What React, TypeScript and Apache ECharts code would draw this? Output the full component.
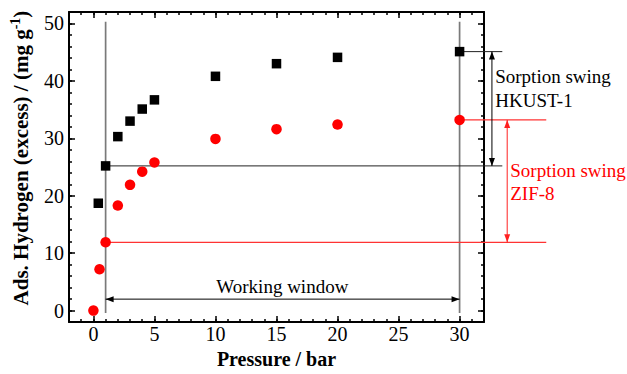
import React, { useEffect, useRef } from 'react';
import * as echarts from 'echarts';

// ---- data ----
const pressureHKUST = [0.4, 1, 2, 3, 4, 5, 10, 15, 20, 30];
const uptakeHKUST = [18.7, 25.2, 30.3, 33.0, 35.1, 36.7, 40.8, 43.0, 44.1, 45.1];
const pressureZIF = [0, 0.5, 1, 2, 3, 4, 5, 10, 15, 20, 30];
const uptakeZIF = [0, 7.2, 11.9, 18.3, 21.9, 24.2, 25.8, 29.9, 31.6, 32.4, 33.2];

const xMajorTicks = [0, 5, 10, 15, 20, 25, 30];
const yMajorTicks = [0, 10, 20, 30, 40, 50];

// annotation geometry in data units: [x1, y1, x2, y2]
const windowGuides = [[1, 50.3, 1, -0.4], [30, 50.3, 30, -0.4]];
const hkustSwingLevels = [[1, 25.2, 33.5, 25.2], [30, 45.1, 33.5, 45.1]];
const zifSwingLevels = [[1, 11.9, 37.1, 11.9], [30, 33.2, 37.1, 33.2]];
const hkustSwingArrow = [[32.65, 45.1, 32.65, 25.2]];
const zifSwingArrow = [[33.9, 33.2, 33.9, 11.9]];
const windowArrow = [[1, 2, 30, 2]];

const windowLabel = 'Working window';
const hkustLabel = 'Sorption swing\nHKUST-1';
const zifLabel = 'Sorption swing\nZIF-8';
const windowLabelAt = [15.48, 4.28];
const hkustLabelAt = [32.92, 38.67];
const zifLabelAt = [34.15, 22.44];

const FONT = '"Times New Roman", "Liberation Serif", serif';
const RED = '#ff0000';

function segmentSeries(data: number[][], color: string, width: number) {
  return {
    type: 'custom',
    silent: true,
    z: 1,
    clip: false,
    encode: { x: [0, 2], y: [1, 3] },
    data,
    renderItem: (_p: any, api: any) => {
      const a = api.coord([api.value(0), api.value(1)]);
      const b = api.coord([api.value(2), api.value(3)]);
      return {
        type: 'line',
        shape: { x1: a[0], y1: a[1], x2: b[0], y2: b[1] },
        style: { stroke: color, lineWidth: width, fill: null },
      };
    },
  };
}

function arrowSeries(data: number[][], color: string) {
  return {
    type: 'custom',
    silent: true,
    z: 1,
    clip: false,
    encode: { x: [0, 2], y: [1, 3] },
    data,
    renderItem: (_p: any, api: any) => {
      const a = api.coord([api.value(0), api.value(1)]);
      const b = api.coord([api.value(2), api.value(3)]);
      const dx = b[0] - a[0];
      const dy = b[1] - a[1];
      const len = Math.sqrt(dx * dx + dy * dy) || 1;
      const ux = dx / len;
      const uy = dy / len;
      const nx = -uy;
      const ny = ux;
      const L = 8;
      const W = 3;
      const headA = [
        [a[0], a[1]],
        [a[0] + ux * L + nx * W, a[1] + uy * L + ny * W],
        [a[0] + ux * L - nx * W, a[1] + uy * L - ny * W],
      ];
      const headB = [
        [b[0], b[1]],
        [b[0] - ux * L + nx * W, b[1] - uy * L + ny * W],
        [b[0] - ux * L - nx * W, b[1] - uy * L - ny * W],
      ];
      return {
        type: 'group',
        children: [
          {
            type: 'line',
            shape: { x1: a[0], y1: a[1], x2: b[0], y2: b[1] },
            style: { stroke: color, lineWidth: 1, fill: null },
          },
          { type: 'polygon', shape: { points: headA }, style: { fill: color } },
          { type: 'polygon', shape: { points: headB }, style: { fill: color } },
        ],
      };
    },
  };
}

function textSeries(at: number[], text: string, color: string, align: string) {
  return {
    type: 'custom',
    silent: true,
    z: 1,
    clip: false,
    data: [at],
    renderItem: (_p: any, api: any) => {
      const p = api.coord([api.value(0), api.value(1)]);
      return {
        type: 'text',
        x: p[0],
        y: p[1],
        style: {
          text,
          fill: color,
          fontSize: 19,
          fontFamily: FONT,
          align,
          verticalAlign: 'middle',
          lineHeight: 23.5,
        },
      };
    },
  };
}

const axisLineStyle = { color: '#000', width: 2 };
const tickStyle = { color: '#000', width: 1.5 };

function xAxes() {
  const base = { type: 'value', min: -2, max: 32, splitLine: { show: false } };
  return [
    {
      ...base,
      position: 'bottom',
      axisLine: { show: true, onZero: false, lineStyle: axisLineStyle },
      axisTick: { show: true, inside: true, length: 6, customValues: xMajorTicks, lineStyle: tickStyle },
      axisLabel: { show: true, customValues: xMajorTicks, margin: 2, color: '#000', fontSize: 20, fontFamily: FONT },
      name: 'Pressure / bar',
      nameLocation: 'middle',
      nameGap: 13,
      nameTextStyle: { fontSize: 20, fontWeight: 'bold', fontFamily: FONT, color: '#000' },
    },
    {
      ...base,
      position: 'bottom',
      interval: 1,
      axisLine: { show: false, onZero: false },
      axisTick: { show: true, inside: true, length: 3, lineStyle: tickStyle },
      axisLabel: { show: false },
    },
    {
      ...base,
      position: 'top',
      interval: 1,
      axisLine: { show: true, onZero: false, lineStyle: axisLineStyle },
      axisTick: { show: true, inside: true, length: 3, lineStyle: tickStyle },
      axisLabel: { show: false },
    },
    {
      ...base,
      position: 'top',
      axisLine: { show: false, onZero: false },
      axisTick: { show: true, inside: true, length: 6, customValues: xMajorTicks, lineStyle: tickStyle },
      axisLabel: { show: false, customValues: xMajorTicks },
    },
  ];
}

function yAxes() {
  const base = { type: 'value', min: -2, max: 52, splitLine: { show: false } };
  return [
    {
      ...base,
      position: 'left',
      axisLine: { show: true, onZero: false, lineStyle: axisLineStyle },
      axisTick: { show: true, inside: true, length: 6, customValues: yMajorTicks, lineStyle: tickStyle },
      axisLabel: { show: true, customValues: yMajorTicks, margin: 5, color: '#000', fontSize: 20, fontFamily: FONT },
      name: '{t|Ads. Hydrogen (excess) / (mg g}{s|-1}{t|)}',
      nameLocation: 'middle',
      nameGap: 35,
      nameTextStyle: {
        padding: [0, 0, 0, 18],
        rich: {
          t: { fontSize: 21, fontWeight: 'bold', fontFamily: FONT, color: '#000', lineHeight: 26 },
          s: { fontSize: 14, fontWeight: 'bold', fontFamily: FONT, color: '#000', verticalAlign: 'top', lineHeight: 14 },
        },
      },
    },
    {
      ...base,
      position: 'left',
      interval: 2,
      axisLine: { show: false, onZero: false },
      axisTick: { show: true, inside: true, length: 3, lineStyle: tickStyle },
      axisLabel: { show: false },
    },
    {
      ...base,
      position: 'right',
      interval: 2,
      axisLine: { show: true, onZero: false, lineStyle: axisLineStyle },
      axisTick: { show: true, inside: true, length: 3, lineStyle: tickStyle },
      axisLabel: { show: false },
    },
    {
      ...base,
      position: 'right',
      axisLine: { show: false, onZero: false },
      axisTick: { show: true, inside: true, length: 6, customValues: yMajorTicks, lineStyle: tickStyle },
      axisLabel: { show: false, customValues: yMajorTicks },
    },
  ];
}

export default function App() {
  const ref = useRef<HTMLDivElement>(null);
  useEffect(() => {
    if (!ref.current) return;
    const chart = echarts.init(ref.current, undefined, { renderer: 'svg' });
    chart.setOption({
      animation: false,
      backgroundColor: '#fff',
      grid: { left: 69, right: 143, top: 12, bottom: 51, containLabel: false },
      xAxis: xAxes(),
      yAxis: yAxes(),
      series: [
        segmentSeries(windowGuides, '#7a7a7a', 1.7),
        segmentSeries(hkustSwingLevels, '#222', 1),
        segmentSeries(zifSwingLevels, '#ff3333', 1.3),
        arrowSeries(hkustSwingArrow, '#000'),
        arrowSeries(zifSwingArrow, '#ff2020'),
        arrowSeries(windowArrow, '#000'),
        textSeries(windowLabelAt, windowLabel, '#000', 'center'),
        textSeries(hkustLabelAt, hkustLabel, '#000', 'left'),
        textSeries(zifLabelAt, zifLabel, RED, 'left'),
        {
          name: 'HKUST-1',
          type: 'scatter',
          symbol: 'rect',
          symbolSize: 9.5,
          z: 3,
          itemStyle: { color: '#000', opacity: 1 },
          data: pressureHKUST.map((p, i) => [p, uptakeHKUST[i]]),
        },
        {
          name: 'ZIF-8',
          type: 'scatter',
          symbol: 'circle',
          symbolSize: 10.5,
          z: 4,
          itemStyle: { color: RED, opacity: 1 },
          data: pressureZIF.map((p, i) => [p, uptakeZIF[i]]),
        },
      ],
    });
    return () => chart.dispose();
  }, []);
  return (
    <div
      ref={ref}
      style={{ position: 'fixed', left: 0, top: 0, width: 627, height: 374, background: '#fff' }}
    />
  );
}
